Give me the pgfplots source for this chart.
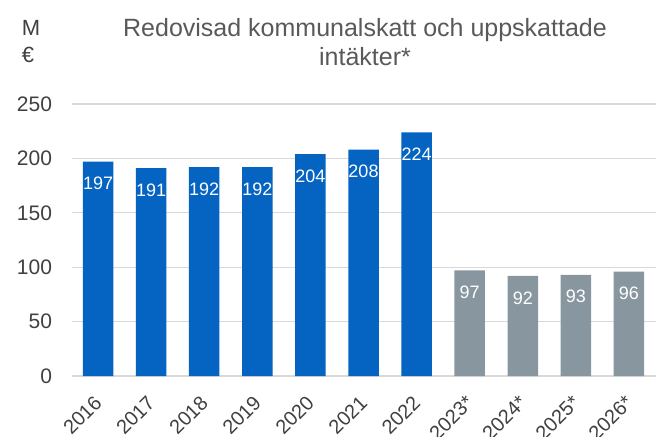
\documentclass[border=0pt]{standalone}
\usepackage{pgfplots}
\pgfplotsset{compat=1.18}
\usepackage{fontspec}
\setmainfont{Liberation Sans}
\definecolor{barblue}{RGB}{5,99,193}
\definecolor{bargray}{RGB}{136,150,160}
\definecolor{txtgray}{RGB}{64,64,64}
\definecolor{titlegray}{RGB}{89,89,89}
\definecolor{gridgray}{RGB}{217,217,217}
\begin{document}
\begin{tikzpicture}[x=1pt,y=1pt]
\path[use as bounding box] (0,0) rectangle (663,436);
\begin{axis}[
  at={(71.5pt,60pt)}, anchor=south west,
  scale only axis, width=584pt, height=272pt,
  xmin=-0.5, xmax=10.5, ymin=0, ymax=250,
  axis line style={draw=none},
  ytick={0,50,100,150,200,250},
  ymajorgrids, grid style={gridgray, line width=1.2pt},
  major tick length=0pt,
  xtick={0,...,10},
  xticklabels={2016,2017,2018,2019,2020,2021,2022,2023*,2024*,2025*,2026*},
  x tick label style={rotate=45, anchor=north east, xshift=-13pt, yshift=-6pt, font=\fontsize{20}{22}\selectfont},
  y tick label style={xshift=-16pt, font=\fontsize{21}{24}\selectfont},
  tick label style={text=txtgray},
  /pgf/number format/assume math mode=true,
  ybar, bar width=30.5pt, bar shift=0pt,
  nodes near coords,
  every node near coord/.append style={anchor=north, yshift=-12pt, text=white, font=\fontsize{18}{20}\selectfont},
  clip=false,
]
\addplot[draw=none, fill=barblue] coordinates {(0,197) (1,191) (2,192) (3,192) (4,204) (5,208) (6,224)};
\addplot[draw=none, fill=bargray] coordinates {(7,97) (8,92) (9,93) (10,96)};
\end{axis}
\node[text=titlegray, font=\fontsize{25}{29}\selectfont, align=center] at (365,394) {Redovisad kommunalskatt och uppskattade\\intäkter*};
\node[text=txtgray, font=\fontsize{22}{27}\selectfont, align=left] at (31,394) {M\\€};
\end{tikzpicture}
\end{document}
